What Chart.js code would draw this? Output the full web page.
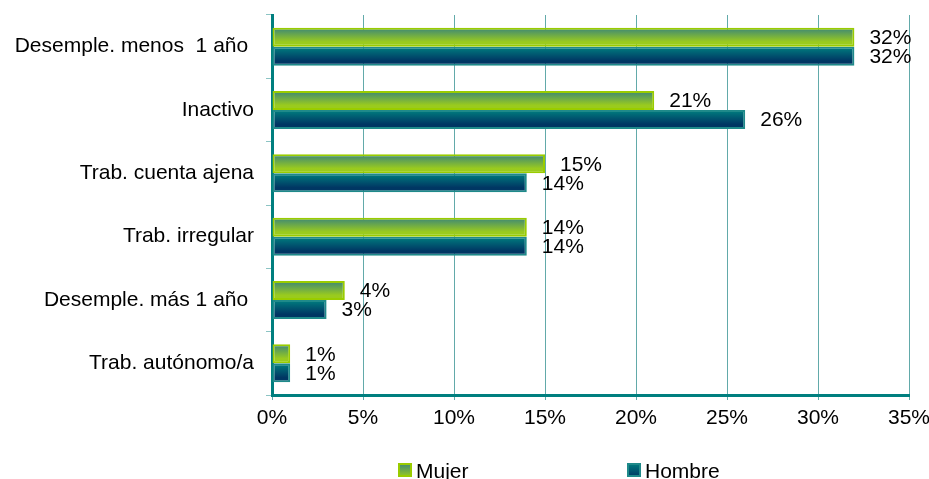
<!DOCTYPE html>
<html>
<head>
<meta charset="utf-8">
<script src="https://cdn.jsdelivr.net/npm/chart.js@4"></script>
<style>
  html, body { margin: 0; padding: 0; background: #fff; }
  #wrap { width: 929px; height: 479px; }
</style>
</head>
<body>
<div id="wrap"><canvas id="myChart" width="929" height="479"></canvas></div>
<script>
'use strict';

// data

let categories = ['Desemple. menos  1 año ', 'Inactivo', 'Trab. cuenta ajena', 'Trab. irregular', 'Desemple. más 1 año ', 'Trab. autónomo/a'];
let mujerValues = [32, 21, 15, 14, 4, 1];
let hombreValues = [32, 26, 14, 14, 3, 1];
let xTicks = [0, 5, 10, 15, 20, 25, 30, 35];

const catPct = 0.6;
const fontFamily = '"Liberation Sans", Arial, sans-serif';

// gradient per bar, computed from the category scale (layout is done before datasets update)
function barGradient(context, top, bottom) {
  let chart = context.chart;
  let yScale = chart.scales.y;
  if (!yScale || context.dataIndex === undefined) return bottom;
  let center = yScale.getPixelForValue(context.dataIndex);
  let band = yScale.height / categories.length;
  let th = band * catPct / 2;
  let y0 = context.datasetIndex === 0 ? center - th : center;
  if (!isFinite(y0) || !isFinite(th) || th <= 0) return bottom;
  let g = chart.ctx.createLinearGradient(0, y0, 0, y0 + th);
  g.addColorStop(0, top);
  g.addColorStop(0.75, bottom);
  g.addColorStop(1, bottom);
  return g;
}

// labels next to bar ends
const valueLabels = {
  id: 'valueLabels',
  afterDatasetsDraw(chart) {
    let ctx = chart.ctx;
    ctx.save();
    ctx.font = '21px ' + fontFamily;
    ctx.fillStyle = '#000';
    ctx.textBaseline = 'middle';
    ctx.textAlign = 'left';
    chart.data.datasets.forEach((ds, i) => {
      let meta = chart.getDatasetMeta(i);
      meta.data.forEach((bar, j) => {
        ctx.fillText(ds.data[j] + '%', bar.x + 15, bar.y + 1);
      });
    });
    ctx.restore();
  }
};

// legend drawn by hand so the two items can sit far apart like the original
const wideLegend = {
  id: 'wideLegend',
  afterDraw(chart) {
    let ctx = chart.ctx;
    let items = [
      { text: 'Mujer', x: 398, fill: ['#3a8579', '#9acb1e'], stroke: '#99cc00' },
      { text: 'Hombre', x: 627, fill: ['#008080', '#003663'], stroke: '#1f8a8a' }
    ];
    ctx.save();
    ctx.font = '21px ' + fontFamily;
    ctx.textBaseline = 'alphabetic';
    items.forEach(it => {
      let g = ctx.createLinearGradient(0, 463, 0, 477);
      g.addColorStop(0, it.fill[0]);
      g.addColorStop(1, it.fill[1]);
      ctx.fillStyle = g;
      ctx.fillRect(it.x, 463, 14, 14);
      ctx.strokeStyle = it.stroke;
      ctx.lineWidth = 2;
      ctx.strokeRect(it.x + 1, 464, 12, 12);
      ctx.fillStyle = '#000';
      ctx.fillText(it.text, it.x + 18, 478);
    });
    ctx.restore();
  }
};

const ctx = document.getElementById('myChart');
new Chart(ctx, {
  type: 'bar',
  data: {
    labels: categories,
    datasets: [
      {
        label: 'Mujer',
        data: mujerValues,
        backgroundColor: (c) => barGradient(c, '#3a8579', '#9acb1e'),
        borderColor: '#99cc00',
        borderWidth: 2,
        borderSkipped: false,
        categoryPercentage: catPct,
        barPercentage: 1
      },
      {
        label: 'Hombre',
        data: hombreValues,
        backgroundColor: (c) => barGradient(c, '#008080', '#003663'),
        borderColor: '#1f8a8a',
        borderWidth: 2,
        borderSkipped: false,
        categoryPercentage: catPct,
        barPercentage: 1
      }
    ]
  },
  options: {
    indexAxis: 'y',
    responsive: false,
    animation: false,
    layout: { padding: { top: 15, right: 20, left: 0, bottom: 34 } },
    plugins: {
      tooltip: { enabled: false },
      legend: { display: false }
    },
    scales: {
      x: {
        min: 0,
        max: 35,
        afterBuildTicks(axis) {
          axis.ticks = xTicks.map(v => ({ value: v }));
        },
        afterFit(axis) {
          axis.height = 50;
          axis.paddingLeft = 0;
          axis.paddingRight = 0;
        },
        ticks: {
          color: '#000',
          font: { family: fontFamily, size: 21 },
          padding: 6,
          callback: (v) => v + '%'
        },
        grid: { color: '#62aaaa', lineWidth: 1, tickLength: 5 },
        border: { color: '#007f7f', width: 3 }
      },
      y: {
        afterFit(axis) {
          axis.width = 272;
          axis.paddingTop = 0;
          axis.paddingBottom = 0;
        },
        ticks: {
          color: '#000',
          font: { family: fontFamily, size: 21 },
          padding: 12
        },
        grid: { drawOnChartArea: false, color: '#8cc4c4', tickLength: 6, offset: true },
        border: { color: '#007f7f', width: 3 }
      }
    }
  },
  plugins: [valueLabels, wideLegend]
});
</script>
</body>
</html>
